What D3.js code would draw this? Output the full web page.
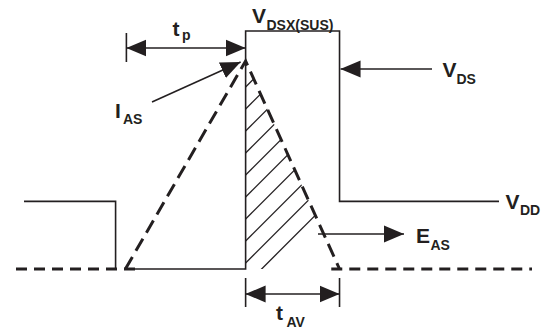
<!DOCTYPE html>
<html>
<head>
<meta charset="utf-8">
<script src="https://cdn.jsdelivr.net/npm/d3@7"></script>
<style>
  html, body { margin: 0; padding: 0; background: #fff; }
  text { font-family: "Liberation Sans", Arial, sans-serif; font-weight: bold; fill: #231f20; }
</style>
</head>
<body>
<div id="chart"></div>
<script>
// time instants (0..100 of the sweep) and levels (fraction of V(DSX(SUS)))
const tStart = 0, tGateShown = 1.55, tGateOff = 19.3, tRise = 21.2;
const tAvStart = 44.5, tAvEnd = 62.7, tVddEnd = 93.6, tStop = 100;
const levelVdd = 0.284, levelIas = 0.874, levelVdsx = 1;

const gateWave = [[tGateShown, levelVdd], [tGateOff, levelVdd], [tGateOff, 0]];
const vdsWave = [[tRise, 0], [tAvStart, 0], [tAvStart, levelVdsx], [tAvEnd, levelVdsx],
                 [tAvEnd, levelVdd], [tVddEnd, levelVdd]];
const currentWave = [[tRise, 0], [tAvStart, levelIas], [tAvEnd, 0]];
const baseLeft = [[tStart, 0], [tRise + 2.8, 0]];
const baseRight = [[tAvEnd - 1.6, 0], [tStop, 0]];

const width = 545, height = 331;
const ink = "#231f20";

const svg = d3.select("#chart").append("svg")
  .attr("width", width)
  .attr("height", height);

const x = d3.scaleLinear().domain([0, 100]).range([16, 532]);
const y = d3.scaleLinear().domain([0, 1]).range([269, 31]);
const line = d3.line().x(d => x(d[0])).y(d => y(d[1]));

// arrow head
const defs = svg.append("defs");
defs.append("marker")
  .attr("id", "head")
  .attr("markerUnits", "userSpaceOnUse")
  .attr("viewBox", "0 -10 20 20")
  .attr("refX", 20).attr("refY", 0)
  .attr("markerWidth", 20).attr("markerHeight", 20)
  .attr("orient", "auto-start-reverse")
  .append("path")
  .attr("d", "M0,-8.5L20,0L0,8.5Z")
  .attr("fill", ink);

// hatched energy triangle
defs.append("clipPath").attr("id", "tri")
  .append("path")
  .attr("d", line([[tAvStart, 0], [tAvStart, levelIas], [tAvEnd, 0]]) + "Z");

const x0 = x(tAvStart), base = y(0);
const hatch = svg.append("g").attr("clip-path", "url(#tri)");
hatch.selectAll("line")
  .data(d3.range(0, 12))
  .join("line")
  .attr("x1", x0)
  .attr("y1", k => base + 16 - k * 22)
  .attr("x2", k => x0 + 260)
  .attr("y2", k => base + 16 - k * 22 - 260)
  .attr("stroke", ink)
  .attr("stroke-width", 1.3);

// solid waveforms
svg.append("path").attr("d", line(gateWave))
  .attr("fill", "none").attr("stroke", ink).attr("stroke-width", 1.6);
svg.append("path").attr("d", line(vdsWave))
  .attr("fill", "none").attr("stroke", ink).attr("stroke-width", 1.6);

// dashed current and zero line
svg.append("path").attr("d", line(currentWave))
  .attr("fill", "none").attr("stroke", ink).attr("stroke-width", 3)
  .attr("stroke-dasharray", "14,7");
[baseLeft, baseRight].forEach(seg => {
  svg.append("path").attr("d", line(seg))
    .attr("fill", "none").attr("stroke", ink).attr("stroke-width", 3)
    .attr("stroke-dasharray", "11,7");
});

function arrow(x1, y1, x2, y2, both) {
  const l = svg.append("line")
    .attr("x1", x1).attr("y1", y1).attr("x2", x2).attr("y2", y2)
    .attr("stroke", ink).attr("stroke-width", 1.6)
    .attr("marker-end", "url(#head)");
  if (both) l.attr("marker-start", "url(#head)");
}
function tick(xp, y1, y2) {
  svg.append("line").attr("x1", xp).attr("x2", xp).attr("y1", y1).attr("y2", y2)
    .attr("stroke", ink).attr("stroke-width", 1.6);
}

// t_p
tick(x(tRise) + 1, 33, 62);
arrow(x(tRise) + 1, 48, x(tAvStart), 48, true);
// t_AV
tick(x(tAvStart), 278, 307);
tick(x(tAvEnd), 278, 307);
arrow(x(tAvStart), 294, x(tAvEnd), 294, true);
// V_DS pointer
arrow(432, 69, x(tAvEnd) + 1, 69, false);
// I_AS pointer
arrow(152, 102, x(tAvStart) - 5, 62, false);
// E_AS pointer
arrow(318, 234, 404, 234, false);

function label(xp, yp, main, sub, subX, subY, size) {
  svg.append("text").attr("x", xp).attr("y", yp)
    .attr("font-size", size || 21).text(main);
  svg.append("text").attr("x", subX).attr("y", subY)
    .attr("font-size", 14).text(sub);
}

label(252, 23, "V", "DSX(SUS)", 266.5, 30);
label(442.5, 77, "V", "DS", 456.5, 83.5);
label(505.5, 208.5, "V", "DD", 520, 215);
label(416, 243, "E", "AS", 430.5, 249.5);
label(115, 118, "I", "AS", 123, 123.5);
label(172.5, 36, "t", "p", 182, 39.5);
label(276, 320, "t", "AV", 286.5, 326.5);
</script>
</body>
</html>
